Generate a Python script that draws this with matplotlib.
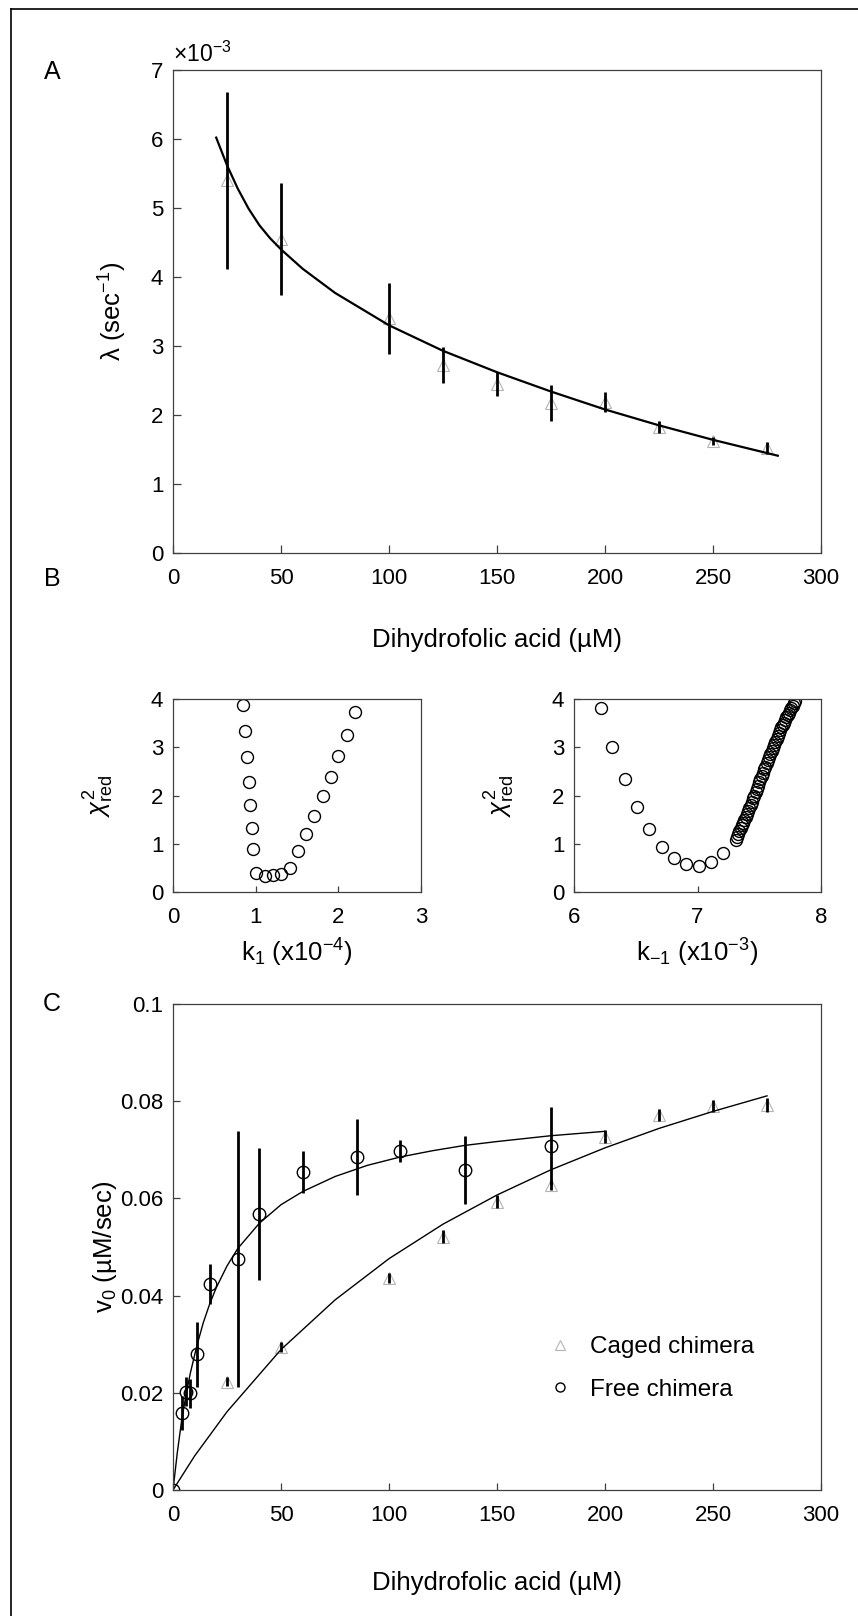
import matplotlib.pyplot as plt
from matplotlib.lines import Line2D

plt.rcParams['font.family'] = ['Liberation Sans', 'DejaVu Sans']
plt.rcParams['mathtext.fontset'] = 'custom'
plt.rcParams['mathtext.rm'] = 'Liberation Sans'
plt.rcParams['mathtext.it'] = 'Liberation Sans:italic'
plt.rcParams['mathtext.bf'] = 'Liberation Sans:bold'

# panel A: lambda in units of 1e-3 sec^-1
a_conc = [25, 50, 100, 125, 150, 175, 200, 225, 250, 275]
a_lam = [5.40, 4.55, 3.40, 2.73, 2.45, 2.17, 2.19, 1.83, 1.62, 1.52]
a_err = [1.28, 0.81, 0.52, 0.26, 0.17, 0.26, 0.15, 0.09, 0.06, 0.09]
a_fit_x = [20, 25, 30, 35, 40, 45, 50, 60, 75, 100, 125, 150, 175, 200, 225, 250, 280]
a_fit_y = [6.02, 5.62, 5.28, 4.99, 4.75, 4.56, 4.40, 4.12, 3.77, 3.30, 2.93, 2.62,
           2.34, 2.08, 1.85, 1.64, 1.41]
a_xticks = [0, 50, 100, 150, 200, 250, 300]
a_yticks = [0, 1, 2, 3, 4, 5, 6, 7]

# panel B: reduced chi-square scans
k1 = [0.85, 0.87, 0.89, 0.915, 0.935, 0.95, 0.97, 1.01, 1.11, 1.21, 1.31, 1.41,
      1.51, 1.61, 1.71, 1.81, 1.91, 2.00, 2.10, 2.20]
chi_k1 = [3.88, 3.34, 2.80, 2.28, 1.80, 1.33, 0.90, 0.39, 0.33, 0.35, 0.37, 0.49,
          0.84, 1.20, 1.57, 1.98, 2.39, 2.82, 3.26, 3.73]
km1 = [6.22, 6.31, 6.41, 6.51, 6.61, 6.71, 6.81, 6.91, 7.01, 7.11, 7.21,
       7.31, 7.32, 7.33, 7.34, 7.35, 7.36, 7.37, 7.38, 7.39, 7.40,
       7.41, 7.42, 7.43, 7.44, 7.45, 7.46, 7.47, 7.48, 7.49, 7.50,
       7.51, 7.52, 7.53, 7.54, 7.55, 7.56, 7.57, 7.58, 7.59, 7.60,
       7.61, 7.62, 7.63, 7.64, 7.65, 7.66, 7.67, 7.68, 7.69, 7.70,
       7.71, 7.72, 7.73, 7.74, 7.75, 7.76, 7.77, 7.78, 7.79]
chi_km1 = [3.81, 3.01, 2.34, 1.77, 1.30, 0.94, 0.70, 0.57, 0.53, 0.62, 0.80,
           1.08, 1.14, 1.20, 1.26, 1.32, 1.38, 1.44, 1.50, 1.56, 1.62,
           1.68, 1.74, 1.81, 1.87, 1.94, 2.00, 2.07, 2.14, 2.20, 2.27,
           2.34, 2.40, 2.47, 2.54, 2.60, 2.67, 2.73, 2.79, 2.86, 2.92,
           2.98, 3.05, 3.11, 3.17, 3.24, 3.30, 3.36, 3.41, 3.46, 3.51,
           3.57, 3.62, 3.67, 3.72, 3.77, 3.82, 3.86, 3.91, 3.96]

# panel C: initial velocities
free_conc = [0, 4, 6, 8, 11, 17, 30, 40, 60, 85, 105, 135, 175]
free_v = [0, 0.0158, 0.0202, 0.0199, 0.0279, 0.0424, 0.0475, 0.0568, 0.0654,
          0.0685, 0.0698, 0.0658, 0.0708]
free_err = [0, 0.0035, 0.003, 0.003, 0.0067, 0.0041, 0.0263, 0.0136, 0.0043,
            0.0078, 0.0023, 0.0070, 0.0081]
caged_conc = [25, 50, 100, 125, 150, 175, 200, 225, 250, 275]
caged_v = [0.0223, 0.0294, 0.0436, 0.0521, 0.0593, 0.0628, 0.0727, 0.0772, 0.0790, 0.0792]
caged_err = [0.001, 0.001, 0.001, 0.0013, 0.0013, 0.001, 0.0014, 0.0012, 0.0012, 0.0015]
free_fit_x = [0, 2, 4, 6, 8, 11, 14, 17, 20, 25, 30, 40, 50, 60, 75, 90, 105, 120,
              135, 150, 175, 200]
free_fit_y = [0, 0.0077, 0.0143, 0.0195, 0.0240, 0.0296, 0.0344, 0.0383, 0.0416,
              0.0461, 0.0497, 0.0549, 0.0587, 0.0614, 0.0645, 0.0668, 0.0685,
              0.0698, 0.0709, 0.0717, 0.0729, 0.0738]
caged_fit_x = [0, 10, 25, 50, 75, 100, 125, 150, 175, 200, 225, 250, 275]
caged_fit_y = [0, 0.0070, 0.0161, 0.0289, 0.0391, 0.0476, 0.0547, 0.0607, 0.0659,
               0.0704, 0.0744, 0.0779, 0.0811]
c_yticks = [0, 0.02, 0.04, 0.06, 0.08, 0.1]
c_ylabels = ['0', '0.02', '0.04', '0.06', '0.08', '0.1']

W, H = 858, 1616
fig = plt.figure(figsize=(W / 100, H / 100), dpi=100)

TICK = 16
LAB = 18.5


def box(l, t, r, b):
    return [l / W, 1 - b / H, (r - l) / W, (b - t) / H]


def style(ax, ticklen, size=TICK):
    for s in ax.spines.values():
        s.set_linewidth(0.9)
        s.set_color('#404040')
    ax.tick_params(direction='in', length=ticklen, width=0.9, color='#404040',
                   labelsize=size)
    ax.tick_params(axis='x', pad=11)
    ax.tick_params(axis='y', pad=7)


tri = dict(ls='none', marker='^', mfc='none', mec='#b4b4b4', mew=0.8)
circ = dict(ls='none', marker='o', mfc='none', mec='black', mew=1.0)

# ---- A
axA = fig.add_axes(box(173, 70, 821, 553))
axA.plot(a_conc, a_lam, ms=9, **tri)
axA.errorbar(a_conc, a_lam, yerr=a_err, fmt='none', ecolor='black', elinewidth=2.0, capsize=0)
axA.plot(a_fit_x, a_fit_y, color='black', lw=1.6)
axA.set_xlim(0, 300)
axA.set_ylim(0, 7)
axA.set_xticks(a_xticks)
axA.set_yticks(a_yticks)
style(axA, 6)
axA.text(0.0, 1.006, r'×10$^{-3}$', transform=axA.transAxes, fontsize=16.5,
         ha='left', va='bottom')
axA.set_xlabel('Dihydrofolic acid (µM)', fontsize=LAB)
axA.xaxis.set_label_coords(0.5, -87 / 483)
axA.xaxis.label.set_va('center')
axA.set_ylabel(r'λ (sec$^{-1}$)', fontsize=LAB)
axA.yaxis.set_label_coords(-60 / 648, 0.5)
axA.yaxis.label.set_va('center')

# ---- B
axB1 = fig.add_axes(box(173, 699, 421, 892))
axB1.plot(k1, chi_k1, ms=8.6, **circ)
axB1.set_xlim(0, 3)
axB1.set_ylim(0, 4)
axB1.set_xticks([0, 1, 2, 3])
axB1.set_yticks([0, 1, 2, 3, 4])
style(axB1, 4)
axB1.set_xlabel(r'k$_1$ (x10$^{-4}$)', fontsize=LAB)
axB1.xaxis.set_label_coords(0.5, -61 / 193)
axB1.xaxis.label.set_va('center')
axB1.set_ylabel(r'$\chi^2_{\rm red}$', fontsize=LAB, rotation=90)
axB1.yaxis.set_label_coords(-74 / 248, 0.5)
axB1.yaxis.label.set_va('center')

axB2 = fig.add_axes(box(574, 699, 821, 892))
axB2.plot(km1, chi_km1, ms=8.6, **circ)
axB2.set_xlim(6, 8)
axB2.set_ylim(0, 4)
axB2.set_xticks([6, 7, 8])
axB2.set_yticks([0, 1, 2, 3, 4])
style(axB2, 4)
axB2.set_xlabel(r'k$_{-1}$ (x10$^{-3}$)', fontsize=LAB)
axB2.xaxis.set_label_coords(0.5, -61 / 193)
axB2.xaxis.label.set_va('center')
axB2.set_ylabel(r'$\chi^2_{\rm red}$', fontsize=LAB, rotation=90)
axB2.yaxis.set_label_coords(-74 / 247, 0.5)
axB2.yaxis.label.set_va('center')

# ---- C
axC = fig.add_axes(box(173, 1004, 821, 1490))
axC.plot(caged_conc, caged_v, ms=9, **tri)
axC.errorbar(caged_conc, caged_v, yerr=caged_err, fmt='none', ecolor='black',
             elinewidth=2.0, capsize=0)
axC.errorbar(free_conc, free_v, yerr=free_err, fmt='none', ecolor='black',
             elinewidth=2.0, capsize=0)
axC.plot(free_conc, free_v, ms=9, **circ)
axC.plot(free_fit_x, free_fit_y, color='black', lw=1.0)
axC.plot(caged_fit_x, caged_fit_y, color='black', lw=1.0)
axC.set_xlim(0, 300)
axC.set_ylim(0, 0.1)
axC.set_xticks(a_xticks)
axC.set_yticks(c_yticks)
axC.set_yticklabels(c_ylabels)
style(axC, 5)
axC.set_xlabel('Dihydrofolic acid (µM)', fontsize=LAB)
axC.xaxis.set_label_coords(0.5, -93 / 486)
axC.xaxis.label.set_va('center')
axC.set_ylabel(r'v$_0$ (µM/sec)', fontsize=LAB)
axC.yaxis.set_label_coords(-68 / 648, 0.5)
axC.yaxis.label.set_va('center')

handles = [Line2D([], [], ms=7, **tri), Line2D([], [], ms=6.5, **circ)]
axC.legend(handles, ['Caged chimera', 'Free chimera'], loc='center left',
           bbox_to_anchor=(0.544, 0.25), frameon=False, fontsize=17.5,
           handlelength=1.0, handletextpad=0.77, labelspacing=0.85)

# panel letters
fig.text(52 / W, 1 - 72 / H, 'A', fontsize=18, ha='center', va='center')
fig.text(52 / W, 1 - 579 / H, 'B', fontsize=18, ha='center', va='center')
fig.text(52 / W, 1 - 1004 / H, 'C', fontsize=18, ha='center', va='center')

# frame around the figure
fig.add_artist(Line2D([11 / W, 1], [1 - 9 / H, 1 - 9 / H], color='black', lw=1.2))
fig.add_artist(Line2D([11 / W, 11 / W], [0, 1 - 9 / H], color='black', lw=1.2))

fig.savefig('out.png', dpi=100)
